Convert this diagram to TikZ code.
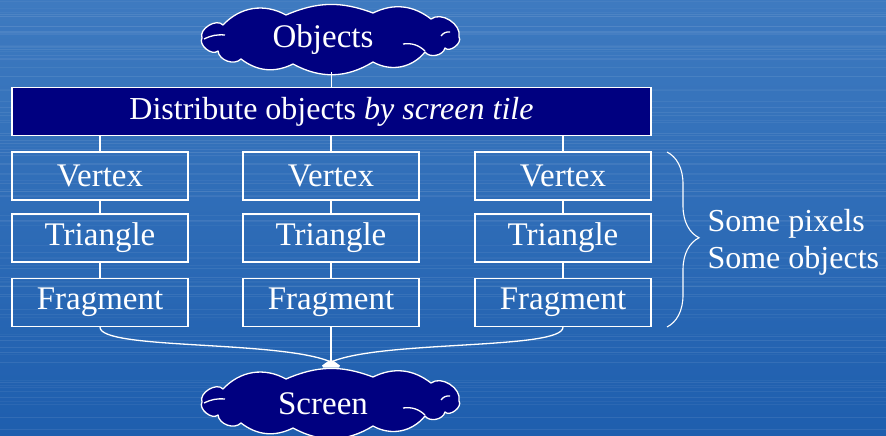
\documentclass[tikz,border=0pt]{standalone}
\usepackage{fontspec}
\setmainfont{Liberation Serif}
\usetikzlibrary{arrows.meta,decorations.pathreplacing}
\definecolor{bgtop}{RGB}{62,122,192}
\definecolor{bgbot}{RGB}{30,94,174}
\definecolor{navy}{RGB}{0,0,128}
\tikzset{
  stagebox/.style={draw=white, line width=1.3pt, minimum width=176pt, minimum height=48pt,
    inner sep=0pt, text=white},
  distbox/.style={draw=white, line width=1.3pt, fill=navy, minimum width=639pt,
    minimum height=48pt, inner sep=0pt, text=white, font=\fontsize{32}{38}\selectfont},
  cloudlabel/.style={minimum width=256pt, minimum height=64pt, inner sep=0pt, text=white},
  puffline/.style={draw=white, line width=1.3pt, fill=navy, line join=round},
  wire/.style={draw=white, line width=1.3pt},
}
% puffy cloud outline around the origin, roughly 256 x 64
\newcommand{\puffcloud}[1]{%
  \begin{scope}[shift={(#1)}]
    \path[puffline]
      (-129,-2) to[bend left=80] (-108,-15) to[bend left=38] (-45,-25)
      to[bend left=22] (42,-27) to[bend left=32] (100,-21)
      to[bend left=70] (128,-3) to[bend left=85] (114,8)
      to[bend left=65] (94,12) to[bend left=40] (42,22)
      to[bend left=30] (-38,24) to[bend left=32] (-90,19)
      to[bend left=65] (-113,11) to[bend left=80] cycle;
    \draw[white, line width=1.3pt] (72,4) to[bend left=25] (94,11);
    \draw[white, line width=1.3pt] (110,-4) to[bend left=30] (119,-8);
    \draw[white, line width=1.3pt] (-127,-1) to[bend left=15] (-106,-5);
  \end{scope}}
\begin{document}
\begin{tikzpicture}[x=1pt, y=-1pt, font=\fontsize{33}{38}\selectfont]
  % backdrop
  \shade[top color=bgtop, bottom color=bgbot] (0,0) rectangle (886,436);
  \useasboundingbox (0,0) rectangle (886,436);
  \pgfmathsetseed{7}
  \foreach \k in {1,...,90}{
    \pgfmathsetmacro{\yy}{rnd*436}
    \pgfmathsetmacro{\op}{0.03+rnd*0.06}
    \draw[white, opacity=\op, line width=0.8pt] (0,\yy) -- (886,\yy);
  }

  % sources and sink
  \puffcloud{331,40}
  \puffcloud{331,404}
  \node[cloudlabel] (objects) at (331,40) {\hspace*{-16pt}Objects};
  \node[cloudlabel] (screen) at (331,404) {\hspace*{-16pt}Screen};

  % distribution stage
  \node[distbox] (dist) at (331.5,111.5) {Distribute objects \textit{by screen tile}};

  % three parallel pipelines
  \foreach \c/\x in {L/100, M/331, R/563}{
    \node[stagebox] (vert\c) at (\x,176) {Vertex};
    \node[stagebox] (tri\c)  at (\x,238) {Triangle};
    \node[stagebox] (frag\c) at (\x,302.5) {Fragment};
  }

  % wiring
  \draw[wire] (objects.south -| dist.north) -- (dist.north);
  \foreach \c in {L,M,R}{
    \draw[wire] (dist.south -| vert\c.north) -- (vert\c.north);
    \draw[wire] (vert\c) -- (tri\c);
    \draw[wire] (tri\c) -- (frag\c);
  }
  \coordinate (merge) at (331,362);
  \draw[wire] (fragL.south) .. controls (100,350) and (280,340) .. (merge);
  \draw[wire] (fragR.south) .. controls (563,350) and (382,340) .. (merge);
  \draw[wire] (fragM.south) -- (merge);
  % joint arrowhead above the screen
  \fill[white] (merge) ++(-2,-1.5) -- ++(4,0) -- (340,365.5) -- (339,367.5)
    -- (323,367.5) -- (322,365.5) -- cycle;

  % brace and note
  \coordinate (btop) at (667,152);
  \coordinate (bbot) at (667,327);
  \draw[wire, line width=1.1pt, decorate, decoration={brace, amplitude=32pt, aspect=0.49}] (btop) -- (bbot);
  \node[text=white, align=left, anchor=west, font=\fontsize{32}{37}\selectfont] (note) at (704,242)
    {Some pixels\\Some objects};
\end{tikzpicture}
\end{document}
